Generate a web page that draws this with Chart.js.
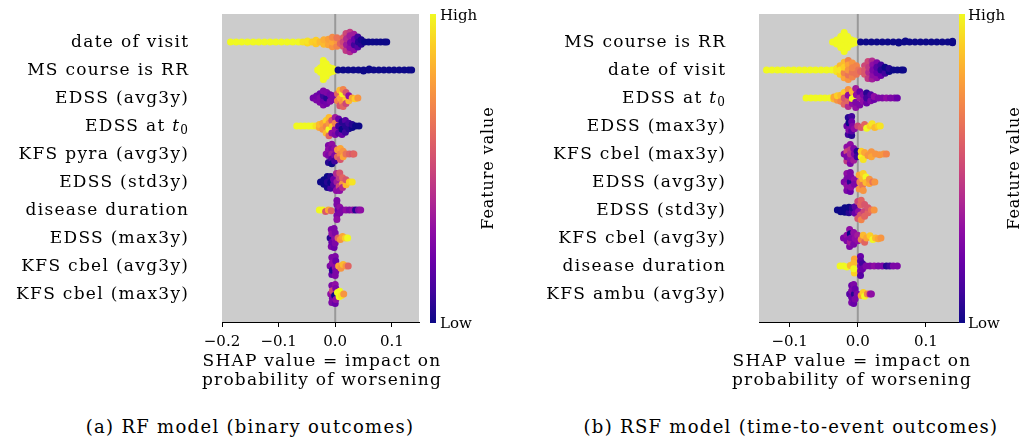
<!DOCTYPE html>
<html>
<head>
<meta charset="utf-8">
<script src="https://cdn.jsdelivr.net/npm/chart.js@4"></script>
<style>
 body{margin:0;background:#fff;width:1022px;height:438px;overflow:hidden;position:relative;font-family:"DejaVu Serif",serif;color:#000}
 canvas{position:absolute;top:0}
 #cA{left:0}
 #cB{left:512px}
 .cbar{position:absolute;top:14px;width:6px;height:309px}
 .t{position:absolute;font-size:15px;line-height:1;white-space:nowrap}
 .fv{position:absolute;font-size:16px;letter-spacing:0.9px;white-space:nowrap;transform:translate(-50%,-50%) rotate(-90deg)}
 .xt{position:absolute;top:351px;font-size:17px;line-height:19px;letter-spacing:1.2px;text-align:center;white-space:nowrap;transform:translateX(-50%)}
 .cap{position:absolute;top:418px;font-size:18px;line-height:1;letter-spacing:1.3px;white-space:nowrap;transform:translateX(-50%)}
</style>
</head>
<body>
<canvas id="cA" width="512" height="400"></canvas>
<canvas id="cB" width="510" height="400"></canvas>
<div class="cbar" style="left:430px"></div>
<div class="t" style="left:440px;top:8px">High</div>
<div class="t" style="left:440px;top:316px">Low</div>
<div class="fv" style="left:487px;top:168px">Feature value</div>
<div class="cbar" style="left:959px"></div>
<div class="t" style="left:968px;top:8px">High</div>
<div class="t" style="left:968px;top:316px">Low</div>
<div class="fv" style="left:1013px;top:168px">Feature value</div>
<div class="xt" style="left:322px">SHAP value = impact on<br>probability of worsening</div>
<div class="xt" style="left:852px">SHAP value = impact on<br>probability of worsening</div>
<div class="cap" style="left:250px">(a) RF model (binary outcomes)</div>
<div class="cap" style="left:791px">(b) RSF model (time-to-event outcomes)</div>
<script>
// features, top to bottom
const featuresA=['date of visit','MS course is RR','EDSS (avg3y)','EDSS at t\u2080','KFS pyra (avg3y)','EDSS (std3y)','disease duration','EDSS (max3y)','KFS cbel (avg3y)','KFS cbel (max3y)'];
const featuresB=['MS course is RR','date of visit','EDSS at t\u2080','EDSS (max3y)','KFS cbel (max3y)','EDSS (avg3y)','EDSS (std3y)','KFS cbel (avg3y)','disease duration','KFS ambu (avg3y)'];
const ticksA=[-0.2,-0.1,0,0.1], ticksB=[-0.1,0,0.1];
const rangeA=[-0.2,0.148], rangeB=[-0.145,0.15];

// points per row: [shap value, offset within row, feature value 0..1]
const swarmA=[
 [[-0.185,0,1],[-0.175,0,1],[-0.165,0,1],[-0.155,0,1],[-0.145,0,1],[-0.135,0,1],[-0.125,0,1],[-0.115,0,1],[-0.105,0,1],[-0.095,0,1],[-0.085,0,1],[-0.075,0,1],[-0.065,0,1],
  [-0.057,0,0.95],[-0.049,0.04,0.92],[-0.049,-0.04,0.95],[-0.041,0,0.9],[-0.034,0.06,0.88],[-0.034,-0.06,0.9],[-0.027,0,0.85],[-0.02,0.08,0.85],[-0.02,-0.08,0.82],
  [-0.012,0.1,0.8],[-0.012,-0.1,0.78],[-0.005,0.17,0.75],[-0.005,0,0.8],[-0.005,-0.17,0.72],[0.003,0.15,0.7],[0.003,-0.05,0.75],[0.003,-0.15,0.65],[0.009,0.05,0.6],
  [0.014,0.15,0.55],[0.014,-0.15,0.6],[0.014,0,0.5],[0.019,0.3,0.45],[0.019,-0.3,0.5],[0.02,0.1,0.35],[0.02,-0.12,0.4],[0.026,0.35,0.4],[0.026,-0.35,0.45],[0.026,0.2,0.3],[0.026,-0.22,0.35],[0.027,0.02,0.25],
  [0.033,0.28,0.3],[0.033,-0.28,0.35],[0.034,0.1,0.1],[0.034,-0.1,0.2],[0.04,0.18,0.15],[0.04,-0.18,0.1],[0.041,0,0.05],[0.046,0.08,0.05],[0.046,-0.08,0.02],
  [0.052,0,0],[0.059,0,0],[0.066,0,0],[0.073,0,0],[0.08,0,0],[0.087,0,0],[0.091,0,0]],
 [[-0.031,0,1],[-0.026,0.08,1],[-0.026,-0.08,1],[-0.021,0.34,1],[-0.021,0.2,1],[-0.021,0.07,1],[-0.021,-0.07,1],[-0.021,-0.2,1],[-0.021,-0.34,1],[-0.016,0.22,1],[-0.016,0,1],[-0.016,-0.22,1],[-0.011,0.1,1],[-0.011,-0.1,1],[-0.005,0.05,1],[-0.005,-0.05,1],[0,0,1],
  [0.005,0,0],[0.014,0,0],[0.023,0,0],[0.032,0,0],[0.041,0,0],[0.05,0,0],[0.05,0.04,0],[0.059,0,0],[0.06,-0.04,0],[0.068,0,0],[0.077,0,0],[0.086,0,0],[0.095,0,0],[0.104,0,0],[0.113,0,0],[0.122,0,0],[0.13,0,0],[0.135,0,0]],
 [[-0.039,0,0.22],[-0.033,0.07,0.25],[-0.033,-0.07,0.22],[-0.027,0.15,0.25],[-0.027,-0.15,0.2],[-0.027,0,0.25],[-0.021,0.25,0.25],[-0.021,0.1,0.2],[-0.021,-0.08,0.1],[-0.021,-0.25,0.25],[-0.015,0.2,0.22],[-0.015,0,0.05],[-0.015,-0.2,0.25],[-0.009,0.12,0.25],[-0.009,-0.12,0.22],[-0.004,0.05,0.25],[-0.004,-0.08,0.25],
  [0.004,0.1,0.7],[0.004,-0.15,0.6],[0.008,0.28,0.55],[0.008,-0.28,0.85],[0.009,0,0.8],[0.013,0.15,0.75],[0.013,-0.15,1],[0.014,0.3,0.6],[0.014,-0.3,0.7],[0.019,0.05,0.9],[0.019,0.2,0.5],[0.019,-0.2,0.55],[0.024,0.1,0.85],[0.024,-0.08,0.3],[0.03,0,0.8],[0.035,0.03,0.9],[0.04,0,0.75]],
 [[-0.068,0,1],[-0.061,0,1],[-0.054,0,1],[-0.047,0,1],[-0.04,0,1],[-0.034,0,0.95],[-0.028,0.05,0.8],[-0.028,-0.05,0.85],[-0.022,0.12,0.75],[-0.022,-0.1,0.8],
  [-0.016,0.25,0.85],[-0.016,-0.2,0.9],[-0.016,0.02,0.7],[-0.011,0.35,0.6],[-0.011,-0.3,0.85],[-0.011,0.12,1],[-0.011,-0.1,0.75],[-0.006,0.25,0.3],[-0.006,-0.2,0.55],[-0.005,0.02,0.9],[0,0.3,0.25],[0,-0.3,0.35],[0,0.12,0.3],[0,-0.1,0.7],
  [0.006,0.25,0.15],[0.006,-0.25,0.2],[0.006,0,0.1],[0.012,0.3,0.2],[0.012,-0.15,0.05],[0.012,0.12,0],[0.018,0.22,0.1],[0.018,-0.2,0.15],[0.018,0,0.05],[0.024,0.1,0.05],[0.024,-0.1,0.1],[0.03,0.05,0],[0.03,-0.05,0.05],[0.036,0,0],[0.042,0,0]],
 [[-0.016,0,0.3],[-0.012,-0.3,0.25],[-0.012,-0.15,0.3],[-0.012,0.05,0.25],[-0.012,0.3,0.05],[-0.006,-0.35,0.3],[-0.006,-0.18,0.25],[-0.006,0,0.35],[-0.006,0.18,0.15],[-0.006,0.35,0],[-0.001,-0.2,0.3],[-0.001,0.05,0.25],[-0.001,0.25,0.1],
  [0.004,-0.15,0.75],[0.004,0.1,0.6],[0.009,-0.2,0.8],[0.009,0,0.7],[0.009,0.2,0.55],[0.014,-0.1,0.75],[0.014,0.1,0.8],[0.019,0,0.65],[0.025,0,0.6],[0.031,0,0.55],[0.033,0,0.6]],
 [[-0.026,0,0],[-0.02,0.08,0],[-0.02,-0.08,0],[-0.014,0.2,0.02],[-0.014,-0.2,0],[-0.014,0,0.05],[-0.008,0.22,0.1],[-0.008,-0.2,0.05],[-0.008,0.02,0],[-0.003,0.1,0.15],[-0.003,-0.1,0.2],
  [0.002,0.3,0.3],[0.002,-0.3,0.4],[0.003,0,0.35],[0.007,0.15,0.5],[0.007,-0.15,0.45],[0.008,0.3,0.3],[0.008,-0.32,0.55],[0.013,0.05,0.75],[0.013,0.2,0.4],[0.013,-0.15,0.6],[0.019,0.1,0.85],[0.019,-0.08,0.55],[0.025,0,0.9],[0.03,0,0.95]],
 [[-0.028,0,1],[-0.022,0,1],[-0.017,0.05,0.55],[-0.012,0,0.8],[-0.007,0.03,0.6],
  [0.003,-0.34,0.25],[0.003,-0.2,0.25],[0.003,0.2,0.25],[0.003,0.34,0.3],[0.005,0,0.2],[0.008,-0.1,0.3],[0.008,0.1,0.25],
  [0.013,0,0.25],[0.019,0,0.3],[0.025,0,0.25],[0.031,0,0.3],[0.036,0,0.05],[0.041,0,0.25],[0.045,0,0.3]],
 [[-0.009,0,0.05],[-0.007,-0.3,0.25],[-0.007,0.3,0.25],[-0.006,-0.15,0.3],[-0.006,0.15,0.2],[-0.002,-0.34,0.25],[-0.002,0.34,0.2],[-0.001,0,0.3],[0,-0.18,0.25],[0,0.18,0.25],
  [0.005,0,0.6],[0.009,0.05,0.75],[0.013,-0.05,0.8],[0.018,0,0.9],[0.022,0,1]],
 [[-0.009,0,0.25],[-0.006,-0.3,0.25],[-0.006,0.3,0.2],[-0.005,-0.12,0.3],[-0.005,0.15,0.05],[0,-0.34,0.25],[0,0.34,0.25],[0,0.05,0.3],[0.001,-0.18,0.2],[0.001,0.2,0.25],
  [0.006,0,0.8],[0.01,0.08,0.75],[0.014,-0.05,0.85],[0.019,0,0.75],[0.023,0,0.6]],
 [[-0.008,0,0.3],[-0.006,-0.3,0.25],[-0.006,0.3,0.25],[-0.005,-0.12,0.5],[-0.005,0.15,0.25],[0,-0.34,0.3],[0,0.34,0.2],[-0.001,0.05,0],[0.001,-0.2,0.25],[0.001,0.2,0.3],
  [0.004,-0.05,1],[0.007,0.1,1],[0.008,-0.1,1],[0.011,0.05,0.95],[0.015,0,0.75]]
];
const swarmB=[
 [[-0.037,0,1],[-0.031,0.07,1],[-0.031,-0.07,1],[-0.025,0.2,1],[-0.025,-0.2,1],[-0.025,0,1],[-0.02,0.34,1],[-0.02,-0.34,1],[-0.02,0.12,1],[-0.02,-0.12,1],[-0.015,0.2,1],[-0.015,-0.2,1],[-0.015,0,1],[-0.01,0.08,1],[-0.01,-0.08,1],[-0.005,0.04,1],[-0.005,-0.04,1],
  [0.004,0,0],[0.012,0,0],[0.02,0,0],[0.028,0,0],[0.036,0,0],[0.044,0,0],[0.052,0,0],[0.06,0,0],[0.06,0.04,0],[0.068,0,0],[0.07,-0.04,0],[0.076,0,0],[0.084,0,0],[0.092,0,0],[0.1,0,0],[0.108,0,0],[0.116,0,0],[0.124,0,0],[0.132,0,0],[0.139,0,0],[0.139,0.03,0],[0.139,-0.03,0]],
 [[-0.134,0,1],[-0.126,0,1],[-0.118,0,1],[-0.11,0,1],[-0.102,0,1],[-0.094,0,1],[-0.086,0,1],[-0.078,0,1],[-0.07,0,1],[-0.062,0,1],[-0.054,0,1],[-0.046,0,1],[-0.038,0,1],
  [-0.031,0.05,0.95],[-0.031,-0.05,0.95],[-0.026,0.15,0.9],[-0.026,-0.15,0.85],[-0.026,0,0.95],[-0.02,0.28,0.8],[-0.02,-0.28,0.85],[-0.02,0.1,0.7],[-0.02,-0.1,0.9],[-0.014,0.34,0.75],[-0.014,-0.34,0.7],[-0.014,0.18,0.65],[-0.014,-0.18,0.8],[-0.014,0,0.75],
  [-0.008,0.25,0.7],[-0.008,-0.25,0.75],[-0.008,0.08,0.65],[-0.008,-0.08,0.7],[-0.002,0.15,0.65],[-0.002,-0.15,0.7],[0.001,0,0.65],[0.004,0.05,0.6],
  [0.01,0.15,0.55],[0.01,-0.15,0.5],[0.01,0,0.55],[0.015,0.3,0.45],[0.015,-0.3,0.5],[0.016,0.08,0.4],[0.016,-0.1,0.45],[0.021,0.32,0.35],[0.021,-0.32,0.4],[0.022,0.18,0.3],[0.022,-0.18,0.3],[0.022,0,0.25],
  [0.028,0.28,0.3],[0.028,-0.26,0.25],[0.028,0.1,0.2],[0.028,-0.1,0.15],[0.034,0.2,0.2],[0.034,-0.18,0.1],[0.034,0,0.05],[0.04,0.12,0.1],[0.04,-0.1,0],[0.046,0.05,0],[0.046,-0.05,0.05],
  [0.052,0,0],[0.058,0,0],[0.064,0,0],[0.067,0,0]],
 [[-0.076,0,1],[-0.069,0,1],[-0.062,0,1],[-0.055,0,1],[-0.048,0,1],[-0.041,0,1],[-0.035,0.04,0.85],[-0.035,-0.04,0.8],[-0.03,0.08,0.75],[-0.03,-0.08,0.9],[-0.025,0.12,0.7],[-0.025,-0.1,0.85],
  [-0.02,0.22,0.6],[-0.02,-0.2,0.9],[-0.02,0,0.55],[-0.014,0.3,0.4],[-0.014,-0.3,0.75],[-0.014,0.1,0.6],[-0.014,-0.1,0.3],[-0.008,0.2,0.3],[-0.008,-0.22,0.85],[-0.008,0.02,1],
  [-0.003,0.34,0.3],[-0.003,-0.34,0.35],[-0.003,0.15,0.25],[-0.002,-0.12,0.3],[0.003,0.25,0.25],[0.003,-0.22,0.2],[0.003,0,0.35],[0.008,0.12,0.3],[0.008,-0.12,0.25],
  [0.013,0.18,0.2],[0.013,-0.18,0.05],[0.013,0,0.1],[0.019,0.1,0.25],[0.019,-0.12,0.15],[0.024,0.05,0.2],[0.024,-0.05,0.3],[0.03,0,0.25],
  [0.036,0,0.25],[0.042,0,0.3],[0.048,0,0.25],[0.054,0,0.25],[0.058,0,0.2]],
 [[-0.016,0,0.2],[-0.014,-0.3,0.05],[-0.014,0.3,0.1],[-0.013,-0.12,0],[-0.013,0.15,0.25],[-0.009,-0.34,0.1],[-0.009,0.34,0.05],[-0.009,-0.15,0.2],[-0.009,0.18,0.15],[-0.008,0.02,0.25],[-0.005,0.1,0.3],
  [0,0,0.5],[0.005,0.05,0.55],[0.01,-0.05,0.6],[0.013,0.08,1],[0.018,0,0.9],[0.021,-0.08,0.95],[0.025,0.05,0.85],[0.03,0,0.9],[0.033,0,0.95]],
 [[-0.02,0,0.25],[-0.016,-0.25,0.3],[-0.016,0.25,0.45],[-0.016,-0.08,0.5],[-0.016,0.1,0.25],[-0.011,-0.34,0.3],[-0.011,0.34,0.25],[-0.011,-0.15,0.45],[-0.011,0.18,0.3],[-0.011,0,0.4],[-0.006,-0.2,0.25],[-0.006,0.22,0.35],[-0.005,0,0.25],[-0.001,-0.1,0.05],[-0.001,0.1,0.1],
  [0.005,0.1,1],[0.005,-0.1,0.9],[0.008,0.2,0.95],[0.01,-0.05,0.8],[0.015,0.05,0.75],[0.02,-0.08,0.75],[0.02,0.1,0.8],[0.026,0,0.75],[0.032,0.03,0.75],[0.038,0,0.75],[0.042,0,0.7]],
 [[-0.02,0,0.25],[-0.016,-0.3,0.3],[-0.016,0.3,0.25],[-0.016,-0.12,0.25],[-0.016,0.12,0.3],[-0.011,-0.34,0.25],[-0.011,0.34,0.2],[-0.011,0,0.05],[-0.01,-0.18,0.25],[-0.01,0.18,0.3],[-0.005,-0.08,0.3],[-0.005,0.08,0.25],
  [0.002,-0.25,0.8],[0.002,0.25,0.75],[0.003,0,0.7],[0.007,-0.12,0.85],[0.007,0.12,0.65],[0.008,-0.3,0.9],[0.008,0.3,0.75],[0.012,-0.18,1],[0.012,0.02,0.85],[0.017,0.05,0.8],[0.017,-0.1,0.75],[0.022,0,0.65],[0.025,0,0.75]],
 [[-0.03,0,0],[-0.025,0,0],[-0.025,0.06,0],[-0.019,0.08,0],[-0.019,-0.08,0],[-0.013,0.1,0.05],[-0.013,-0.1,0],[-0.008,0.05,0.1],[-0.008,-0.08,0.05],[-0.004,0.12,0.2],[-0.004,-0.12,0.15],
  [0,0.3,0.55],[0,-0.3,0.5],[0.001,0.05,0.3],[0.004,0.18,0.55],[0.004,-0.18,0.6],[0.005,0.35,0.7],[0.005,-0.35,0.6],[0.009,0.05,0.5],[0.01,0.22,0.6],[0.01,-0.2,0.55],[0.015,0.1,0.6],[0.015,-0.08,0.55],[0.02,0,0.65],[0.024,0,0.75]],
 [[-0.021,0,0.25],[-0.016,-0.1,0.3],[-0.016,0.1,0.25],[-0.012,-0.3,0.3],[-0.012,0.3,0.25],[-0.011,-0.15,0],[-0.011,0.15,0.35],[-0.01,0,0.25],[-0.006,-0.2,0.3],[-0.006,0.22,0.25],[-0.004,0.02,0.3],[0,-0.1,0.35],[0,0.1,0.3],
  [0.005,0.05,0.7],[0.008,-0.1,0.85],[0.01,0.15,0.6],[0.013,0,0.8],[0.018,-0.08,0.9],[0.022,0.05,1],[0.026,0,0.85],[0.03,0.03,0.8],[0.034,0,0.75]],
 [[-0.026,0,1],[-0.021,0,1],[-0.016,0.04,1],[-0.011,-0.02,0.85],[-0.005,-0.25,0.8],[-0.005,0.25,0.9],[-0.006,-0.1,0.85],[-0.006,0.1,1],
  [0.004,-0.34,0.2],[0.004,-0.18,0.15],[0.004,0,0.25],[0.004,0.18,0.25],[0.004,0.34,0.15],[0.007,-0.08,0.1],[0.007,0.1,0.2],
  [0.012,0,0.25],[0.018,0,0.25],[0.024,0,0.3],[0.03,0,0.25],[0.036,0,0.25],[0.042,0,0.05],[0.047,0,0.1],[0.052,0,0.25],[0.058,0,0.25]],
 [[-0.012,0,0.15],[-0.009,-0.3,0.2],[-0.009,0.3,0.25],[-0.009,-0.12,0.25],[-0.009,0.12,0.2],[-0.006,-0.34,0.25],[-0.006,0.34,0.2],[-0.005,0,0.05],[-0.004,-0.18,0.2],[-0.004,0.18,0.25],[-0.001,0,0.25],
  [0.005,0.05,0.8],[0.008,-0.05,0.9],[0.01,0.08,1],[0.014,0,0.7],[0.018,0,0.35],[0.02,0,0.3]]
];

const FONT='"DejaVu Serif", serif';
const plasma=['#0d0887','#41049d','#6a00a8','#8f0da4','#b12a90','#cc4778','#e16462','#f2844b','#fca636','#fcce25','#f0f921'];

function hex(h){return [1,3,5].map(i=>parseInt(h.substr(i,2),16))}
function plasmaAt(t){
 t=Math.max(0,Math.min(1,t));
 const s=t*(plasma.length-1), i=Math.min(plasma.length-2,Math.floor(s)), f=s-i;
 const a=hex(plasma[i]), b=hex(plasma[i+1]);
 return 'rgb('+a.map((v,k)=>Math.round(v+(b[k]-v)*f)).join(',')+')';
}
document.querySelectorAll('.cbar').forEach(el=>{
 el.style.background='linear-gradient(to top,'+plasma.join(',')+')';
});

const fmt=v=>(v<0?'\u2212':'')+Math.abs(v).toFixed(1);

const panelBg={
 id:'panelBg',
 beforeDraw(chart){
  const {ctx,chartArea:a}=chart;
  ctx.save();ctx.fillStyle='#cccccc';
  ctx.fillRect(a.left,a.top,a.right-a.left,a.bottom-a.top);
  ctx.restore();
 },
 beforeDatasetsDraw(chart){
  const {ctx,chartArea:a,scales:{x}}=chart;
  const x0=x.getPixelForValue(0);
  ctx.save();ctx.strokeStyle='#999999';ctx.lineWidth=2;
  ctx.beginPath();ctx.moveTo(x0,a.top);ctx.lineTo(x0,a.bottom);ctx.stroke();
  ctx.restore();
 }
};

// feature names, placed on the y scale rows (wider spacing than Chart.js ticks allow)
const rowLabels={
 id:'rowLabels',
 afterDraw(chart,args,opts){
  const {ctx,chartArea:a,scales:{y}}=chart;
  const sp=1.3;
  ctx.save();
  ctx.fillStyle='#000';ctx.textBaseline='middle';ctx.textAlign='left';
  ctx.letterSpacing=sp+'px';
  opts.labels.forEach((lab,i)=>{
   const py=y.getPixelForValue(i)+1;
   const parts=lab.endsWith('t\u2080')
    ?[[lab.slice(0,-2),'',17,0],['t','italic ',17,0],['0','',12,4]]
    :[[lab,'',17,0]];
   let w=0;
   parts.forEach(p=>{ctx.font=p[1]+p[2]+'px '+FONT;w+=ctx.measureText(p[0]).width});
   let x=a.left-34-w+sp;
   parts.forEach(p=>{ctx.font=p[1]+p[2]+'px '+FONT;ctx.fillText(p[0],x,py+p[3]);x+=ctx.measureText(p[0]).width});
  });
  ctx.restore();
 }
};

function panel(id,features,swarm,ticks,range,labelW,rightPad){
 const pts=[];
 swarm.forEach((row,i)=>row.forEach(([v,dy,c])=>pts.push({x:v,y:i+dy,c:c})));
 return new Chart(document.getElementById(id),{
  type:'scatter',
  data:{datasets:[{data:pts,pointRadius:3.5,pointBorderWidth:0,
   backgroundColor:ctx=>plasmaAt(ctx.raw?ctx.raw.c:0)}]},
  options:{
   responsive:false,animation:false,events:[],
   layout:{padding:{top:14,right:rightPad,left:0,bottom:0}},
   plugins:{legend:{display:false},tooltip:{enabled:false},rowLabels:{labels:features}},
   scales:{
    x:{type:'linear',min:range[0],max:range[1],
     afterBuildTicks:s=>{s.ticks=ticks.map(v=>({value:v}))},
     afterFit:s=>{s.height=78},
     ticks:{callback:v=>fmt(v),font:{family:FONT,size:15},color:'#000',padding:6,maxRotation:0,autoSkip:false},
     grid:{display:true,drawOnChartArea:false,drawTicks:true,tickLength:5,color:'#000'},
     border:{display:true,color:'#000',width:1}
    },
    y:{type:'linear',reverse:true,min:-1,max:10,
     afterBuildTicks:s=>{s.ticks=features.map((f,i)=>({value:i}))},
     afterFit:s=>{s.width=labelW;s.paddingTop=0;s.paddingBottom=0},
     ticks:{display:false},
     grid:{display:false,drawTicks:false},
     border:{display:false}
    }
   }
  },
  plugins:[panelBg,rowLabels]
 });
}

panel('cA',featuresA,swarmA,ticksA,rangeA,222,93);
panel('cB',featuresB,swarmB,ticksB,rangeB,247,62);
</script>
</body>
</html>
